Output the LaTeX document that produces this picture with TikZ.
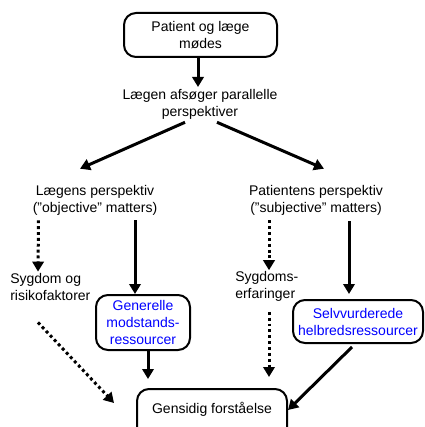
\documentclass[tikz,border=0pt]{standalone}
\usepackage{fontspec}
\setmainfont{Liberation Sans}
\usetikzlibrary{arrows.meta,calc}
\begin{document}
\begin{tikzpicture}[x=0.75pt,y=-0.75pt,
  txt/.style={inner sep=0pt,font=\fontsize{10.5pt}{12.75pt}\selectfont},
  rbox/.style={draw,line width=1.5pt,rounded corners=9pt,inner sep=0pt,
    font=\fontsize{10.5pt}{12.75pt}\selectfont,align=center},
  bluetxt/.style={text=blue},
  arr/.style={line width=2.25pt,-{Triangle[length=7.5pt,width=8.5pt]}},
  darr/.style={line width=2.25pt,dash pattern=on 2.2pt off 2.2pt,-{Triangle[length=7.5pt,width=8.5pt]}}]
\useasboundingbox (0,0) rectangle (424,427);
\clip (0,0) rectangle (424,427);
% nodes
\node[rbox,minimum width=114.75pt,minimum height=33pt] (top) at (200.5,35) {Patient og læge\\mødes};
\node[txt,align=center] (mid) at (200,104) {Lægen afsøger parallelle\\perspektiver};
\node[txt,align=center] (lp) at (95,200) {Lægens perspektiv\\(”objective” matters)};
\node[txt,align=center] (pp) at (316,200) {Patientens perspektiv\\(”subjective” matters)};
\node[txt,align=left,anchor=west] (sy) at (10,286.5) {Sygdom og\\risikofaktorer};
\node[txt,align=left,anchor=west] (sd) at (235,286.5) {Sygdoms-\\erfaringer};
\node[rbox,bluetxt,minimum width=70.5pt,minimum height=41.25pt] (gen) at (143,322.5) {Generelle\\modstands-\\ressourcer};
\node[rbox,bluetxt,minimum width=97.5pt,minimum height=32.25pt] (selv) at (358,321.5) {Selvvurderede\\helbredsressourcer};
\node[rbox,minimum width=112.5pt,anchor=north,text height=18.5pt,text depth=30pt] (gs) at (212,388) {Gensidig forståelse};
% connectors
\draw[arr] ($(top.south)+(-2.5,0)$) -- ($(top.south)+(-2.5,29)$);
\draw[arr] ($(mid.south)+(-15,3)$) -- ($(lp.north)+(-15,-16)$);
\draw[arr] ($(mid.south)+(17,3)$) -- ($(pp.north)+(8,-16)$);
\draw[darr] ($(lp.south west)+(6,5)$) -- ($(sy.north west)+(28,-1)$);
\draw[arr] ($(lp.south)+(40,5)$) -- ($(gen.north)+(-8,0)$);
\draw[darr] ($(pp.south)+(-47,5)$) -- ($(sd.north west)+(34,-1)$);
\draw[arr] ($(pp.south)+(33,6)$) -- ($(selv.north)+(-9,-5)$);
\draw[arr] ($(gen.south)+(5,0)$) -- ($(gen.south)+(5,28)$);
\draw[darr] ($(sd.south west)+(34,10)$) -- ($(gs.north)+(57,-11)$);
\draw[darr] ($(sy.south west)+(28,22)$) -- ($(gs.north west)+(-22,15)$);
\draw[arr] ($(selv.south)+(-6,3)$) -- ($(gs.north east)+(0,22)$);
\end{tikzpicture}
\end{document}
